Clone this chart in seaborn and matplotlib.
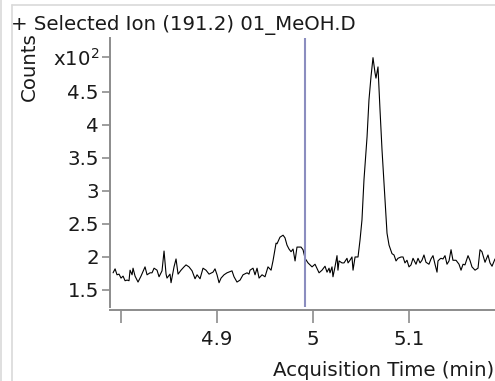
import matplotlib
matplotlib.use("Agg")
import matplotlib.pyplot as plt
from matplotlib.lines import Line2D
import seaborn as sns
import pandas as pd

# ---- data (counts in units of x10^2) ----
time_min = [
    4.7917, 4.7938, 4.7958, 4.7979, 4.8000, 4.8021, 4.8042, 4.8063, 4.8083, 4.8094,
    4.8115, 4.8125, 4.8146, 4.8177, 4.8208, 4.8250, 4.8271, 4.8302, 4.8323, 4.8344,
    4.8375, 4.8396, 4.8427, 4.8448, 4.8469, 4.8479, 4.8510, 4.8521, 4.8552, 4.8573,
    4.8594, 4.8625, 4.8656, 4.8677, 4.8708, 4.8740, 4.8771, 4.8792, 4.8823, 4.8854,
    4.8885, 4.8917, 4.8958, 4.8979, 4.9000, 4.9021, 4.9042, 4.9073, 4.9104, 4.9156,
    4.9177, 4.9208, 4.9240, 4.9271, 4.9313, 4.9333, 4.9344, 4.9375, 4.9396, 4.9417,
    4.9438, 4.9469, 4.9500, 4.9531, 4.9563, 4.9583, 4.9615, 4.9625, 4.9656, 4.9688,
    4.9708, 4.9729, 4.9750, 4.9771, 4.9792, 4.9813, 4.9833, 4.9875, 4.9896, 4.9917,
    4.9948, 4.9990, 5.0021, 5.0063, 5.0094, 5.0125, 5.0146, 5.0167, 5.0177, 5.0198,
    5.0208, 5.0229, 5.0250, 5.0260, 5.0271, 5.0302, 5.0323, 5.0354, 5.0365, 5.0385,
    5.0406, 5.0417, 5.0438, 5.0469, 5.0490, 5.0510, 5.0531, 5.0563, 5.0583, 5.0604,
    5.0625, 5.0646, 5.0656, 5.0677, 5.0698, 5.0719, 5.0740, 5.0771, 5.0792, 5.0823,
    5.0844, 5.0865, 5.0885, 5.0917, 5.0938, 5.0958, 5.0979, 5.1000, 5.1021, 5.1042,
    5.1073, 5.1094, 5.1115, 5.1135, 5.1156, 5.1177, 5.1208, 5.1229, 5.1250, 5.1271,
    5.1292, 5.1302, 5.1323, 5.1333, 5.1354, 5.1375, 5.1396, 5.1417, 5.1438, 5.1458,
    5.1490, 5.1521, 5.1542, 5.1563, 5.1583, 5.1615, 5.1635, 5.1656, 5.1688, 5.1719,
    5.1740, 5.1760, 5.1792, 5.1823, 5.1844, 5.1865, 5.1896,
]
counts_e2 = [
    1.76, 1.82, 1.73, 1.74, 1.68, 1.71, 1.64, 1.65, 1.64, 1.80,
    1.73, 1.83, 1.71, 1.62, 1.71, 1.85, 1.73, 1.76, 1.76, 1.83,
    1.80, 1.70, 1.79, 2.09, 1.74, 1.68, 1.74, 1.61, 1.85, 1.97,
    1.74, 1.80, 1.85, 1.88, 1.85, 1.79, 1.67, 1.73, 1.67, 1.83,
    1.80, 1.74, 1.77, 1.82, 1.73, 1.61, 1.68, 1.73, 1.76, 1.79,
    1.70, 1.62, 1.65, 1.73, 1.76, 1.74, 1.80, 1.83, 1.73, 1.83,
    1.68, 1.73, 1.70, 1.85, 1.80, 1.94, 2.21, 2.20, 2.30, 2.33,
    2.29, 2.18, 2.12, 2.08, 2.12, 1.94, 2.15, 2.15, 2.11, 1.98,
    1.91, 1.85, 1.89, 1.76, 1.80, 1.86, 1.77, 1.83, 1.76, 1.85,
    1.70, 1.85, 2.02, 1.80, 1.94, 1.91, 1.91, 1.98, 1.91, 1.95,
    2.00, 1.80, 2.00, 2.00, 2.26, 2.56, 3.17, 3.82, 4.38, 4.73,
    5.02, 4.79, 4.71, 4.88, 4.23, 3.62, 3.12, 2.36, 2.18, 2.05,
    2.03, 1.94, 1.98, 2.00, 2.00, 1.91, 1.95, 1.85, 1.88, 1.98,
    1.89, 1.98, 1.91, 1.95, 2.03, 1.92, 1.89, 1.97, 2.02, 1.89,
    1.77, 1.94, 1.97, 1.98, 1.97, 2.02, 1.89, 1.94, 2.11, 1.95,
    1.95, 1.89, 1.80, 1.89, 1.88, 2.02, 1.95, 1.85, 1.80, 1.83,
    2.11, 2.08, 1.92, 2.03, 1.91, 1.86, 1.97,
]
marker_time = 4.9917
y_ticks = [1.5, 2.0, 2.5, 3.0, 3.5, 4.0, 4.5]
y_tick_labels = ["1.5", "2", "2.5", "3", "3.5", "4", "4.5"]
x_ticks = [4.8, 4.9, 5.0, 5.1]
x_tick_labels = ["", "4.9", "5", "5.1"]
title = "+ Selected Ion (191.2) 01_MeOH.D"
y_label = "Counts"
x_label = "Acquisition Time (min)"

sns.set_theme(style="white")
plt.rcParams["font.family"] = ["DejaVu Sans"]
plt.rcParams["mathtext.default"] = "regular"

W, H = 495, 381
fig = plt.figure(figsize=(W / 100, H / 100), dpi=100)
fig.patch.set_facecolor("white")

def fx(px):
    return px / W

def fy(py):
    return 1 - py / H

ax = fig.add_axes([fx(110), fy(307), fx(495) - fx(110), fy(38) - fy(307)])
ax.set_facecolor("white")

df = pd.DataFrame({"t": time_min, "c": counts_e2})
sns.lineplot(data=df, x="t", y="c", ax=ax, color="black", linewidth=0.8,
             estimator=None, sort=False)
ax.axvline(marker_time, color="#8b8dbf", linewidth=1.5)

ax.set_xlim(4.7885, 5.1896)
ax.set_ylim(1.242, 5.318)
ax.set_xlabel("")
ax.set_ylabel("")

axis_col = "#8c8c8c"
txt_col = "#1a1a1a"
fs = 14.2
for s in ["top", "right"]:
    ax.spines[s].set_visible(False)
ax.spines["left"].set_color(axis_col)
ax.spines["left"].set_linewidth(1.4)
ax.spines["bottom"].set_color(axis_col)
ax.spines["bottom"].set_linewidth(1.4)
ax.spines["bottom"].set_position(("outward", 2.2))

ax.set_yticks(y_ticks + [5.03])
ax.set_yticklabels(y_tick_labels + ["x10$^{2}$"])
ax.set_xticks(x_ticks)
ax.set_xticklabels(x_tick_labels)
ax.tick_params(axis="y", direction="out", length=6, width=1.2, color=axis_col,
               pad=2, labelsize=fs, labelcolor=txt_col, left=True)
ax.tick_params(axis="x", direction="out", length=9.5, width=1.2, color=axis_col,
               pad=5, labelsize=fs, labelcolor=txt_col, bottom=True)

fig.text(fx(11), fy(30), title, fontsize=fs, color=txt_col, ha="left", va="baseline")
fig.text(fx(29), fy(67), y_label, fontsize=fs, color=txt_col, rotation=90,
         ha="center", va="center")
fig.text(fx(273), fy(376.5), x_label, fontsize=fs, color=txt_col, ha="left",
         va="baseline")

frame_col = "#d9d9d9"
fig.add_artist(Line2D([fx(1), fx(1)], [0, 1], color=frame_col, linewidth=1.2))
fig.add_artist(Line2D([fx(11.5), fx(11.5)], [0, fy(5)], color=frame_col, linewidth=1.2))
fig.add_artist(Line2D([fx(11.5), 1], [fy(5), fy(5)], color=frame_col, linewidth=1.2))

fig.savefig("out.png", dpi=100, facecolor="white")
